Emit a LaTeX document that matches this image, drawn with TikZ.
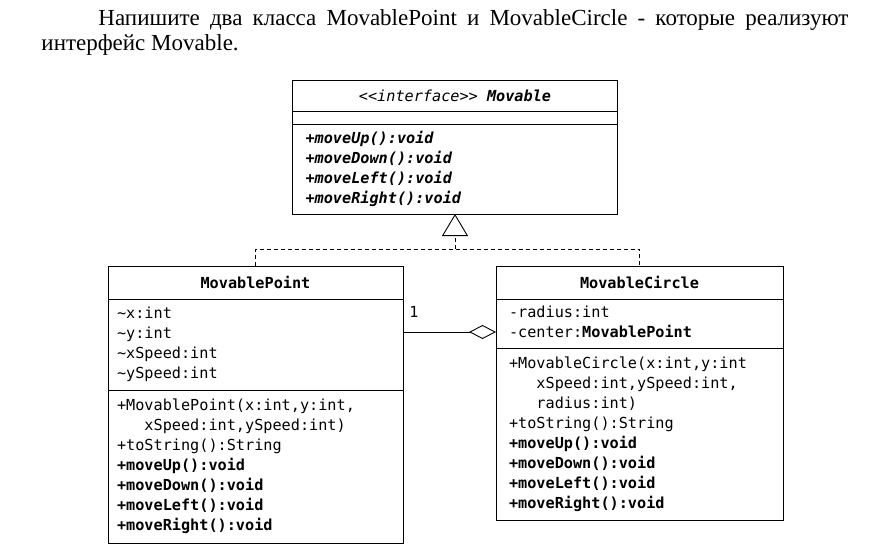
\documentclass[tikz,border=0pt]{standalone}
\usepackage{fontspec}
\setmainfont{Liberation Serif}
\setmonofont{DejaVu Sans Mono}[
  BoldFont={DejaVu Sans Mono Bold},
  ItalicFont={DejaVu Sans Mono Oblique},
  BoldItalicFont={DejaVu Sans Mono Bold Oblique}]
\usetikzlibrary{positioning,arrows.meta}
\newcommand{\umlFont}[0]{\ttfamily\fontsize{15.2}{20}\selectfont}
\newcommand{\taskFont}[0]{\fontsize{23}{25}\selectfont}
\newcommand{\abstr}[1]{\textbf{\textit{#1}}}
\newcommand{\cont}[0]{\phantom{xxx}}

\begin{document}
\begin{tikzpicture}[x=1pt, y=-1pt, line width=0.9pt]
  \tikzset{box/.style={draw, rectangle, inner ysep=0pt, outer sep=0pt, font=\umlFont},
           members/.style={box, align=left, execute at begin node=\strut, execute at end node=\strut},
           realize/.style={dash pattern=on 4pt off 3pt}}
  \useasboundingbox (0,0) rectangle (895,550);
  \node[anchor=base west, inner sep=0pt, font=\taskFont] (task1) at (98,25)
       {\makebox[750pt][s]{Напишите два класса MovablePoint и MovableCircle - которые реализуют}};
  \node[anchor=base west, inner sep=0pt, font=\taskFont] (task2) at (41,50) {интерфейс Movable.};
  % interface
  \node[box, minimum width=325pt, minimum height=31pt, anchor=north] (mvName) at (455,80)
       {\textit{<<interface>>} \abstr{Movable}};
  \node[box, minimum width=325pt, minimum height=13pt, below=0pt of mvName] (mvAttr) {};
  \node[members, text width=299pt, inner xsep=13pt, minimum height=90pt, below=0pt of mvAttr] (mvOps)
       {\abstr{+moveUp():void}\\\abstr{+moveDown():void}\\\abstr{+moveLeft():void}\\\abstr{+moveRight():void}};
  % MovablePoint
  \node[box, minimum width=295pt, minimum height=33pt, anchor=north] (mpName) at (255.5,266)
       {\textbf{MovablePoint}};
  \node[members, text width=277pt, inner xsep=9pt, minimum height=91pt, below=0pt of mpName] (mpAttr)
       {\textasciitilde x:int\\\textasciitilde y:int\\\textasciitilde xSpeed:int\\\textasciitilde ySpeed:int};
  \node[members, text width=277pt, inner xsep=9pt, minimum height=153pt, below=0pt of mpAttr] (mpOps)
       {+MovablePoint(x:int,y:int,\\\cont xSpeed:int,ySpeed:int)\\+toString():String\\
        \textbf{+moveUp():void}\\\textbf{+moveDown():void}\\\textbf{+moveLeft():void}\\\textbf{+moveRight():void}};
  % MovableCircle
  \node[box, minimum width=287pt, minimum height=33pt, anchor=north] (mcName) at (639.5,266)
       {\textbf{MovableCircle}};
  \node[members, text width=261pt, inner xsep=13pt, minimum height=49pt, below=0pt of mcName] (mcAttr)
       {-radius:int\\-center:\textbf{MovablePoint}};
  \node[members, text width=261pt, inner xsep=13pt, minimum height=172pt, below=0pt of mcAttr] (mcOps)
       {+MovableCircle(x:int,y:int\\\cont xSpeed:int,ySpeed:int,\\\cont radius:int)\\+toString():String\\
        \textbf{+moveUp():void}\\\textbf{+moveDown():void}\\\textbf{+moveLeft():void}\\\textbf{+moveRight():void}};
  % realization
  \coordinate (bar) at (455,249);
  \draw[realize] (mpName.north) |- (bar) -| (mcName.north);
  \draw[realize, -{Triangle[open, length=22pt, width=26pt]}] (bar) -- (mvOps.south);
  % aggregation
  \draw[-{Diamond[open, length=27pt, width=14pt]}] ([yshift=-33pt]mpAttr.north east)
       -- node[at start, anchor=south west, inner sep=0pt, xshift=6pt, yshift=14pt, font=\umlFont] (mult) {1}
       ([yshift=-33pt]mcAttr.north west);
\end{tikzpicture}
\end{document}
